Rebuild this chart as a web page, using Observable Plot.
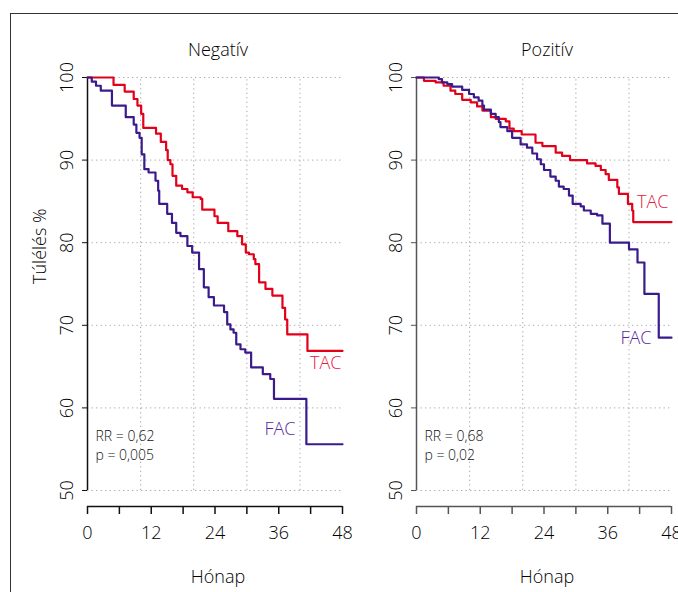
<!DOCTYPE html>
<html><head><meta charset="utf-8">
<script src="https://cdn.jsdelivr.net/npm/d3@7"></script>
<script src="https://cdn.jsdelivr.net/npm/@observablehq/plot@0.6"></script>
<style>
html,body{margin:0;padding:0;background:#fff;}
#wrap{position:relative;width:678px;height:592px;overflow:hidden;font-family:"Open Sans",sans-serif;}
#frame{position:absolute;left:10px;top:13px;width:720px;height:640px;border:1.3px solid #333;box-sizing:border-box;}
.panel{position:absolute;top:0;}
.panel text{font-weight:300;}
</style></head>
<body><div id="wrap"><div id="frame"></div></div>
<script>
// ---- data ----
const panelTitles = ["Negatív", "Pozitív"];
const seriesNames = ["TAC", "FAC"];
const xTicks = [0, 6, 12, 18, 24, 30, 36, 42, 48];
const xGrid = [10, 20, 30, 40];
const yTicks = [50, 60, 70, 80, 90, 100];
const xLabel = "Hónap";
const yLabel = "Túlélés %";
const rrText = ["RR = 0,62", "RR = 0,68"];
const pText = ["p = 0,005", "p = 0,02"];

const negTacMonths = [0,4.9,7.0,8.7,9.4,10.1,10.5,12.9,13.8,14.8,15.1,15.6,16.0,16.7,17.8,18.8,19.8,21.3,21.6,23.9,24.5,26.5,28.2,29.1,29.8,30.4,31.3,31.6,32.3,33.5,34.8,36.7,37.2,37.6,41.4,48];
const negTacSurv   = [100,99.1,98.3,97.4,96.6,95.6,93.9,93.2,92.2,91.2,90.0,89.5,88.1,86.9,86.5,86.1,85.5,85.3,84.0,83.2,82.4,81.4,80.8,79.8,78.8,78.6,78.0,77.4,75.2,74.4,73.6,72.1,70.7,68.9,66.9,66.9];

const negFacMonths = [0,0.8,1.6,2.5,4.6,7.2,8.7,9.2,9.8,10.2,10.7,11.5,12.8,13.3,13.5,15.0,15.9,16.7,17.5,18.8,19.7,21.0,21.9,22.8,23.8,25.7,26.3,26.9,27.5,28.0,28.8,29.7,30.8,33.0,34.4,35.1,41.2,48];
const negFacSurv   = [100,99.5,99.0,98.4,96.6,95.2,94.3,93.3,92.7,90.7,88.9,88.5,87.5,86.3,84.7,83.5,82.4,81.2,80.8,79.6,78.8,76.8,74.6,73.4,72.4,71.6,70.1,69.5,69.1,67.7,67.1,66.7,64.9,64.1,63.5,61.1,55.6,55.6];

const posTacMonths = [0,1.4,3.6,5.1,6.4,7.3,8.6,10.2,11.4,12.4,14.0,14.9,16.8,17.5,18.3,19.8,22.4,23.7,26.2,27.4,28.9,32.1,33.7,34.7,35.6,36.2,37.8,38.1,39.8,40.6,40.8,48];
const posTacSurv   = [100,99.6,99.4,99.0,98.4,98.0,97.3,97.0,96.5,96.0,95.2,95.0,94.7,93.8,93.5,93.1,92.1,91.7,90.9,90.5,90.0,89.6,89.3,88.8,88.3,87.6,86.7,85.9,84.7,83.9,82.5,82.5];

const posFacMonths = [0,4.2,4.8,5.8,6.7,8.6,9.9,10.8,11.7,12.4,12.7,14.0,14.9,15.5,15.8,17.1,18.0,19.6,20.8,21.8,22.7,23.4,24.0,25.2,26.2,26.8,27.7,28.7,29.4,30.9,31.5,32.8,34.0,35.0,36.4,40.0,41.6,42.9,45.6,48];
const posFacSurv   = [100,99.8,99.4,99.2,98.9,98.5,98.0,97.6,97.2,96.6,96.1,95.6,95.2,94.6,94.0,93.5,92.7,91.9,91.5,90.8,90.1,89.5,88.8,88.0,87.5,86.8,86.5,85.7,84.7,84.4,83.9,83.5,83.3,82.3,80.0,79.2,77.6,73.8,68.5,68.5];

// ---- build ----
const zip = (ms, ss) => ms.map((m, i) => ({m, s: ss[i]}));
const RED = "#e2001a", PURPLE = "#3b1b8c";
const RED_TXT = "#e5203a", PURPLE_TXT = "#55289a";

const panels = [
  {title: panelTitles[0], tac: zip(negTacMonths, negTacSurv), fac: zip(negFacMonths, negFacSurv), rr: rrText[0], p: pText[0],
   left: 0, axis: "#111", tacLab: {dx: -1, dy: 12}, facLab: {dx: -47, dy: -15}, yLab: true},
  {title: panelTitles[1], tac: zip(posTacMonths, posTacSurv), fac: zip(posFacMonths, posFacSurv), rr: rrText[1], p: pText[1],
   left: 329, axis: "#555", tacLab: {dx: -3, dy: -20}, facLab: {dx: -20, dy: 1}, yLab: false}
];

const grid = {stroke: "#a8a8a8", strokeDasharray: "1.3,3.2", strokeWidth: 1};
const INK = "#000";

for (const p of panels) {
  const marks = [
    Plot.ruleY(yTicks, {y: d => d, x1: 0, x2: 48, ...grid}),
    Plot.ruleX(xGrid, {x: d => d, y1: 50, y2: 100, ...grid}),
    Plot.ruleX([0], {y1: 50, y2: 100, stroke: p.axis, strokeWidth: 1.5}),
    Plot.axisY(yTicks, {tickSize: 5, tickFormat: () => "", stroke: p.axis, label: null}),
    Plot.text(yTicks, {x: 0, y: d => d, text: d => String(d), rotate: -90, dx: -20, fontSize: 18, fill: INK}),
    Plot.ruleY([50], {x1: 0, x2: 48, dy: 16, stroke: p.axis, strokeWidth: 1.5}),
    Plot.axisX(xTicks, {tickFormat: d => d % 12 === 0 ? String(d) : "", tickSize: 8, tickPadding: 12, dy: 16,
      stroke: p.axis, strokeWidth: 1.5, fontSize: 18, fill: INK, label: null}),
    Plot.line(p.tac, {x: "m", y: "s", curve: "step-after", stroke: RED, strokeWidth: 2.2}),
    Plot.line(p.fac, {x: "m", y: "s", curve: "step-after", stroke: PURPLE, strokeWidth: 2.2}),
    Plot.text(p.tac.slice(-1), {x: "m", y: "s", text: () => seriesNames[0], textAnchor: "end", fill: RED_TXT, fontSize: 18, ...p.tacLab}),
    Plot.text(p.fac.slice(-1), {x: "m", y: "s", text: () => seriesNames[1], textAnchor: "end", fill: PURPLE_TXT, fontSize: 18, ...p.facLab}),
    Plot.text([p.title], {frameAnchor: "top", dy: -27, dx: 3, lineAnchor: "middle", fontSize: 18, fill: INK}),
    Plot.text([xLabel], {frameAnchor: "bottom", dy: 87, dx: 3, lineAnchor: "middle", fontSize: 18, fill: INK}),
    Plot.text([p.rr], {frameAnchor: "bottom-left", dx: 8, dy: -53.5, lineAnchor: "middle", textAnchor: "start", fontSize: 14, fill: "#111"}),
    Plot.text([p.p], {frameAnchor: "bottom-left", dx: 8, dy: -34.5, lineAnchor: "middle", textAnchor: "start", fontSize: 14, fill: "#111"})
  ];
  if (p.yLab) marks.push(Plot.text([yLabel], {frameAnchor: "left", dx: -47, rotate: -90, fontSize: 18, fill: INK}));
  const chart = Plot.plot({
    width: 370, height: 592,
    marginLeft: 87, marginRight: 28, marginTop: 77, marginBottom: 102,
    x: {domain: [0, 48]},
    y: {domain: [50, 100]},
    style: {fontFamily: "'Open Sans', sans-serif", fontSize: "18px", background: "transparent", overflow: "visible"},
    marks
  });
  chart.classList.add("panel");
  chart.style.left = p.left + "px";
  document.getElementById("wrap").appendChild(chart);
}
</script>
</body></html>
